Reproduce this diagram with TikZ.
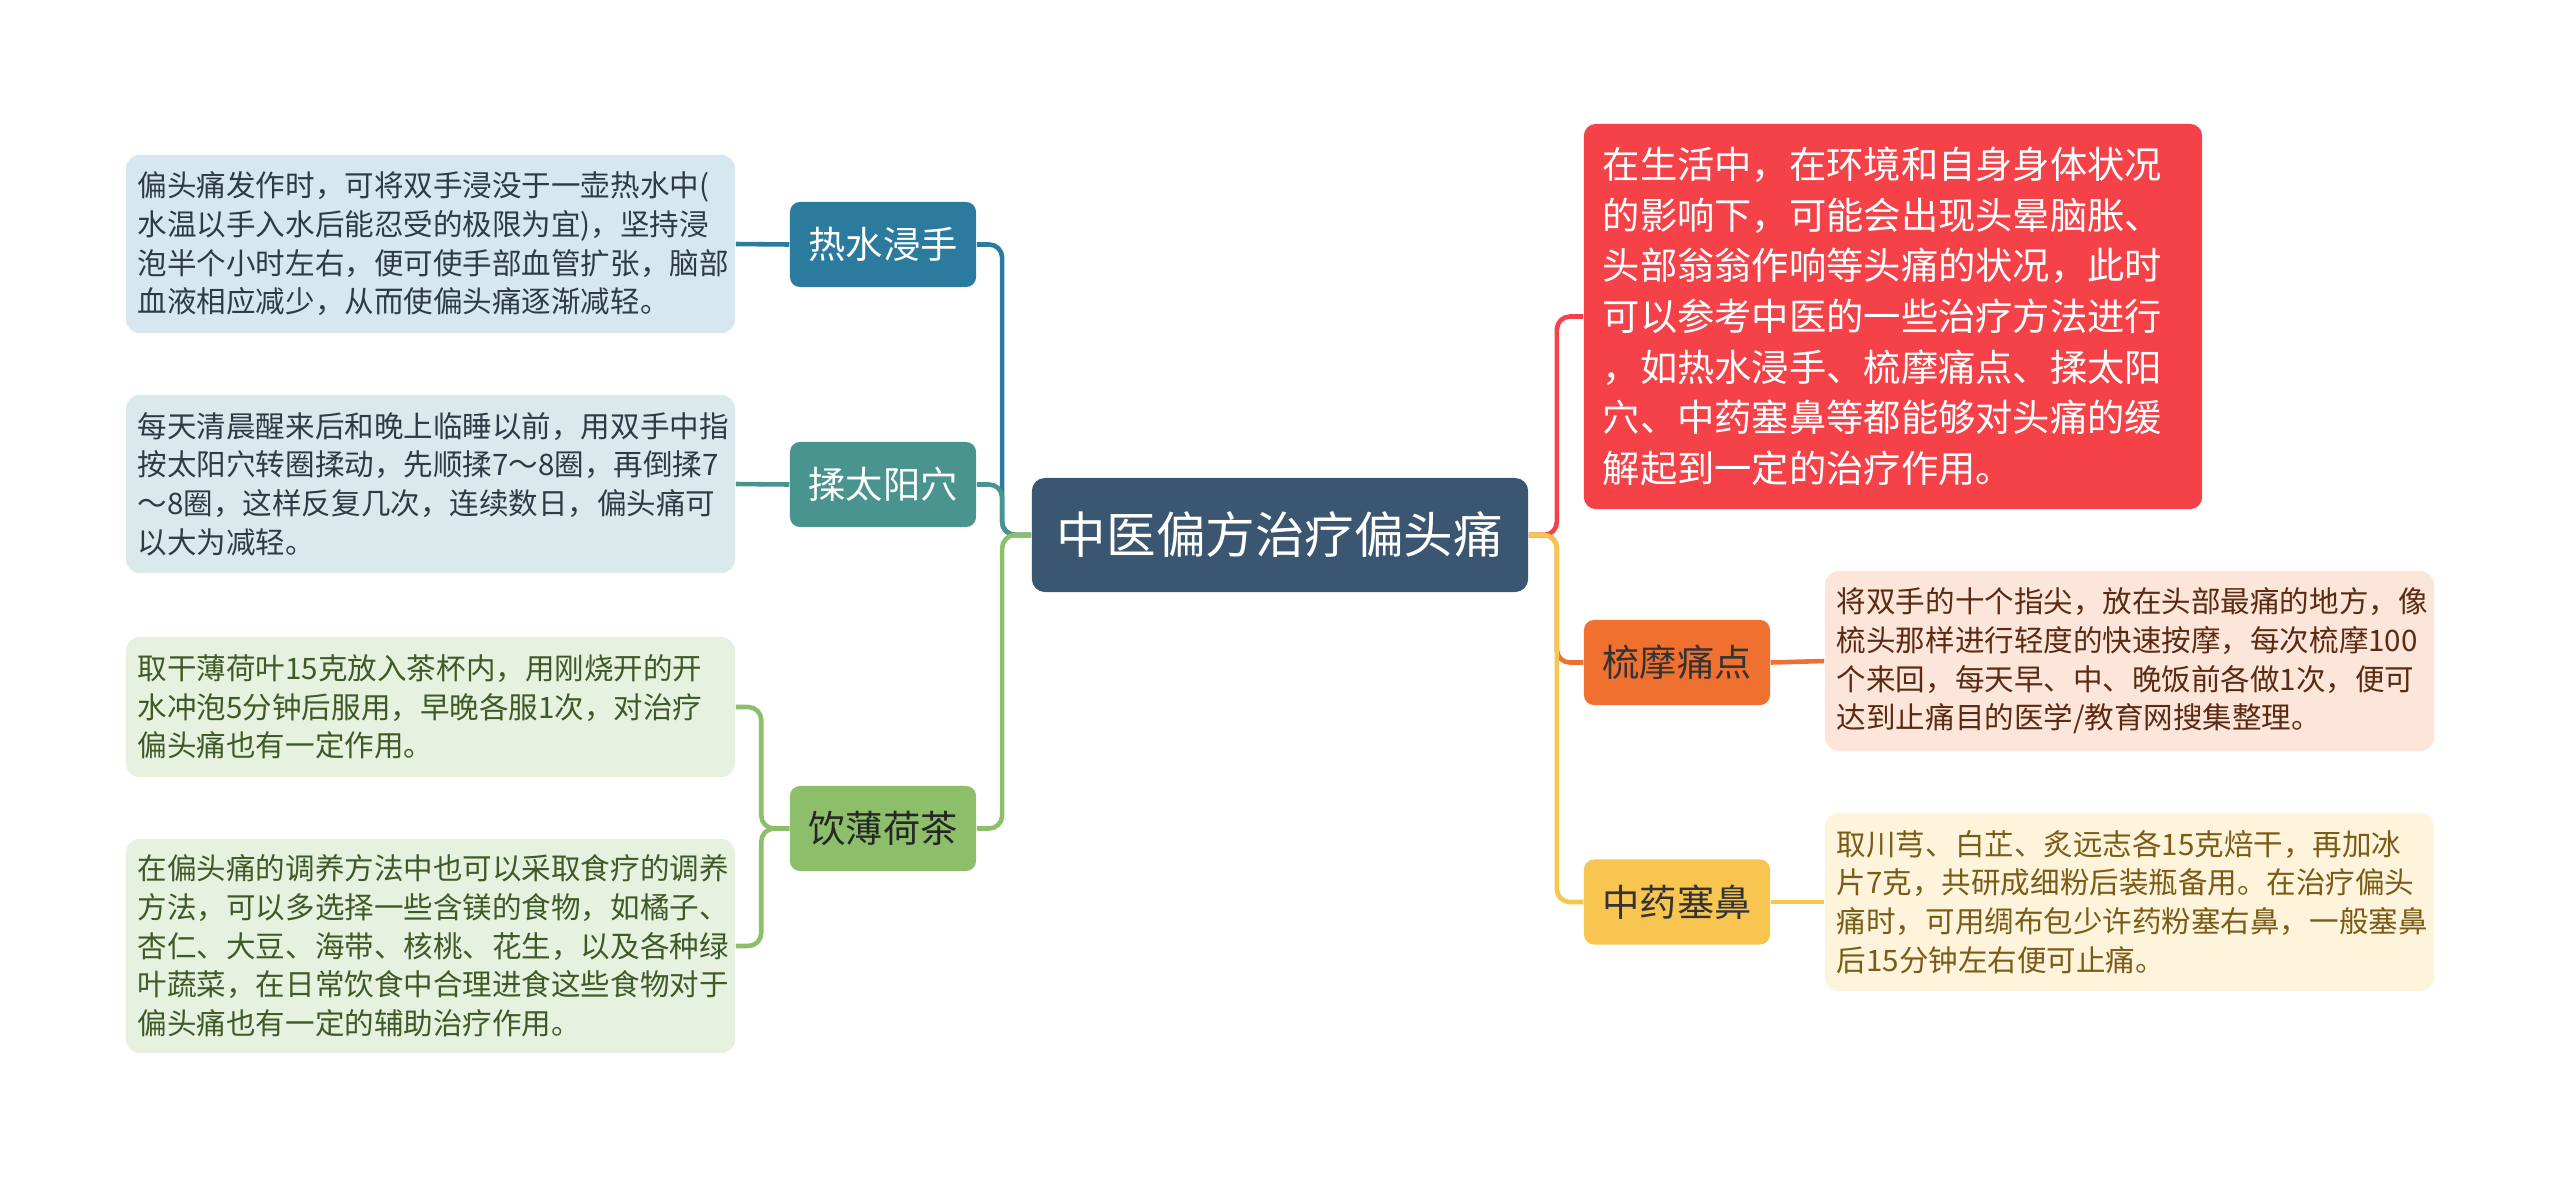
\documentclass[tikz,border=0pt]{standalone}
\usepackage{fontspec}
\setmainfont{Noto Sans CJK SC}
\usepackage{tikz}
\usetikzlibrary{
  positioning,
  calc
}
\usepackage{xcolor}
\definecolor{rootbg}{HTML}{3B5670}
\definecolor{hotbg}{HTML}{2B7B9E}
\definecolor{rubbg}{HTML}{4A9490}
\definecolor{teabg}{HTML}{8DBF6A}
\definecolor{lifebg}{HTML}{F54249}
\definecolor{combbg}{HTML}{F07030}
\definecolor{nosebg}{HTML}{F7C550}
\definecolor{hotpale}{HTML}{D7E7EF}
\definecolor{rubpale}{HTML}{DAE9EC}
\definecolor{teapale}{HTML}{E7F1E0}
\definecolor{combpale}{HTML}{FCE5D9}
\definecolor{nosepale}{HTML}{FEF4DC}
\definecolor{hotink}{HTML}{2E3B45}
\definecolor{teaink}{HTML}{3E5A26}
\definecolor{combink}{HTML}{5C2A12}
\definecolor{noseink}{HTML}{7B5B16}

\begin{document}
\begin{tikzpicture}[
  x=0.01cm, y=-0.01cm,
  topic/.style={rounded corners=0.13cm, minimum width=4.96cm, minimum height=1.14cm,
                fill=rootbg, text=white, font=\fontsize{14.1}{17}\selectfont},
  branch/.style={rounded corners=0.1cm, minimum width=1.86cm, minimum height=0.85cm,
                 inner sep=0pt, font=\fontsize{10.6}{13}\selectfont},
  leaf/.style={rounded corners=0.14cm, inner xsep=0.12cm, inner ysep=0pt,
               text width=5.85cm, align=left, font=\fontsize{8.4}{11}\selectfont},
  link/.style={line width=1.3pt, rounded corners=0.13cm},
]
  \useasboundingbox (0,0) rectangle (2560,1181);

  \node[topic] (root) at (1280, 535) {中医偏方治疗偏头痛};

  \node[branch, fill=hotbg, text=white] (hot) at (883, 244.5) {热水浸手};
  \node[branch, fill=rubbg, text=white] (rub) at (883, 484.5) {揉太阳穴};
  \node[branch, fill=teabg, text=black!85] (tea) at (883, 828.5) {饮薄荷茶};

  \node[leaf, fill=hotpale, text=hotink, minimum height=1.78cm] (hotleaf) at (430.5, 244) {
    偏头痛发作时，可将双手浸没于一壶热水中(\\
    水温以手入水后能忍受的极限为宜)，坚持浸\\
    泡半个小时左右，便可使手部血管扩张，脑部\\
    血液相应减少，从而使偏头痛逐渐减轻。
  };
  \node[leaf, fill=rubpale, text=hotink, minimum height=1.78cm] (rubleaf) at (430.5, 484) {
    每天清晨醒来后和晚上临睡以前，用双手中指\\
    按太阳穴转圈揉动，先顺揉7～8圈，再倒揉7\\
    ～8圈，这样反复几次，连续数日，偏头痛可\\
    以大为减轻。
  };
  \node[leaf, fill=teapale, text=teaink, minimum height=1.4cm] (tealeafa) at (430.5, 707) {
    取干薄荷叶15克放入茶杯内，用刚烧开的开\\
    水冲泡5分钟后服用，早晚各服1次，对治疗\\
    偏头痛也有一定作用。
  };
  \node[leaf, fill=teapale, text=teaink, minimum height=2.14cm] (tealeafb) at (430.5, 946) {
    在偏头痛的调养方法中也可以采取食疗的调养\\
    方法，可以多选择一些含镁的食物，如橘子、\\
    杏仁、大豆、海带、核桃、花生，以及各种绿\\
    叶蔬菜，在日常饮食中合理进食这些食物对于\\
    偏头痛也有一定的辅助治疗作用。
  };

  \node[rounded corners=0.12cm, fill=lifebg, text=white, inner xsep=0.19cm, inner ysep=0pt,
        text width=5.8cm, align=left, minimum height=3.85cm,
        font=\fontsize{10.6}{14.4}\selectfont] (life) at (1893, 316.5) {
    在生活中，在环境和自身身体状况\\
    的影响下，可能会出现头晕脑胀、\\
    头部翁翁作响等头痛的状况，此时\\
    可以参考中医的一些治疗方法进行\\
    ，如热水浸手、梳摩痛点、揉太阳\\
    穴、中药塞鼻等都能够对头痛的缓\\
    解起到一定的治疗作用。
  };

  \node[branch, fill=combbg, text=black!80] (comb) at (1677, 662.5) {梳摩痛点};
  \node[branch, fill=nosebg, text=black!80] (nose) at (1677, 902) {中药塞鼻};

  \node[leaf, fill=combpale, text=combink, minimum height=1.8cm] (combleaf) at (2129.5, 661) {
    将双手的十个指尖，放在头部最痛的地方，像\\
    梳头那样进行轻度的快速按摩，每次梳摩100\\
    个来回，每天早、中、晚饭前各做1次，便可\\
    达到止痛目的医学/教育网搜集整理。
  };
  \node[leaf, fill=nosepale, text=noseink, minimum height=1.78cm] (noseleaf) at (2129.5, 902) {
    取川芎、白芷、炙远志各15克焙干，再加冰\\
    片7克，共研成细粉后装瓶备用。在治疗偏头\\
    痛时，可用绸布包少许药粉塞右鼻，一般塞鼻\\
    后15分钟左右便可止痛。
  };

  \draw[link, hotbg] (root.west) -- ++(-29,0) |- (hot.east);
  \draw[link, rubbg] (root.west) -- ++(-29,0) |- (rub.east);
  \draw[link, teabg] (root.west) -- ++(-29,0) |- (tea.east);

  \draw[link, lifebg] (root.east) -- ++(28,0) |- (life.west);
  \draw[link, combbg] (root.east) -- ++(28,0) |- (comb.west);
  \draw[link, nosebg] (root.east) -- ++(28,0) |- (nose.west);

  \draw[link, hotbg] (hot.west) -- (hotleaf.east);
  \draw[link, rubbg] (rub.west) -- (rubleaf.east);
  \draw[link, teabg] (tea.west) -- ++(-28,0) |- (tealeafa.east);
  \draw[link, teabg] (tea.west) -- ++(-28,0) |- (tealeafb.east);
  \draw[link, combbg] (comb.east) -- (combleaf.west);
  \draw[link, nosebg] (nose.east) -- (noseleaf.west);
\end{tikzpicture}
\end{document}
